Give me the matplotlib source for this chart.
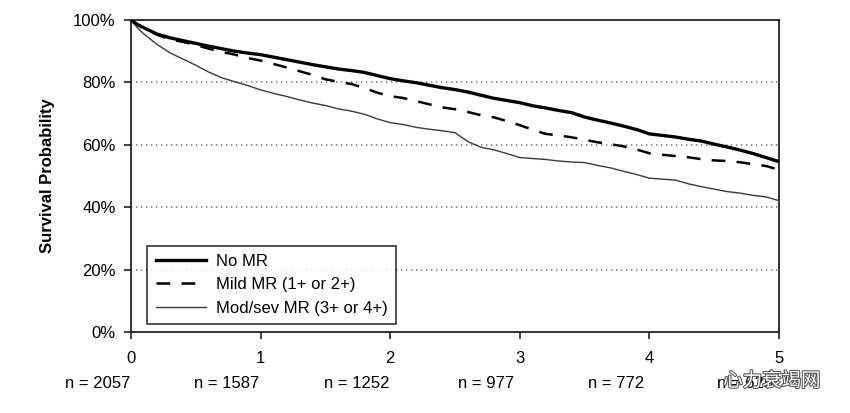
import matplotlib
matplotlib.use("Agg")
import matplotlib.pyplot as plt
import matplotlib.patheffects as pe
from matplotlib.ticker import FuncFormatter

# ---- data ----
years = [0.0, 0.05, 0.1, 0.2, 0.3, 0.4, 0.5, 0.6, 0.7, 0.8, 0.9,
         1.0, 1.1, 1.2, 1.3, 1.4, 1.5, 1.6, 1.7, 1.8, 1.9,
         2.0, 2.1, 2.2, 2.3, 2.4, 2.5, 2.6, 2.7, 2.8, 2.9,
         3.0, 3.1, 3.2, 3.3, 3.4, 3.5, 3.6, 3.7, 3.8, 3.9,
         4.0, 4.1, 4.2, 4.3, 4.4, 4.5, 4.6, 4.7, 4.8, 4.9, 5.0]

no_mr = [100, 98.5, 97.5, 95.5, 94.3, 93.4, 92.5, 91.6, 90.8, 90.0, 89.4,
         88.9, 88.1, 87.3, 86.5, 85.7, 85.0, 84.3, 83.8, 83.2, 82.2,
         81.2, 80.5, 79.9, 79.1, 78.3, 77.7, 76.9, 75.9, 74.9, 74.2,
         73.5, 72.5, 71.8, 71.0, 70.3, 68.9, 67.9, 67.0, 66.0, 64.9,
         63.5, 63.0, 62.5, 61.8, 61.2, 60.2, 59.3, 58.3, 57.2, 55.9, 54.6]

mild_mr = [100, 98.6, 97.3, 95.3, 93.8, 93.0, 92.0, 90.8, 89.8, 88.9, 87.8,
           87.0, 85.9, 84.8, 83.6, 82.4, 81.0, 80.2, 79.5, 78.2, 76.7,
           75.6, 75.0, 74.0, 73.0, 72.0, 71.4, 70.5, 69.5, 68.8, 67.6,
           66.3, 64.8, 63.5, 63.0, 62.4, 61.6, 60.8, 60.2, 59.5, 58.5,
           57.3, 56.8, 56.4, 56.0, 55.4, 55.0, 54.8, 54.4, 53.8, 53.2, 52.0]

modsev_mr = [100, 97.5, 95.5, 92.2, 89.5, 87.5, 85.5, 83.3, 81.5, 80.2, 79.0,
             77.6, 76.5, 75.5, 74.4, 73.4, 72.6, 71.5, 70.8, 69.8, 68.3,
             67.1, 66.5, 65.6, 65.0, 64.5, 63.9, 61.0, 59.2, 58.4, 57.2,
             55.9, 55.6, 55.3, 54.8, 54.5, 54.3, 53.4, 52.6, 51.5, 50.5,
             49.3, 49.0, 48.7, 47.5, 46.6, 45.8, 45.0, 44.5, 43.8, 43.3, 42.1]

labels = ["No MR", "Mild MR (1+ or 2+)", "Mod/sev MR (3+ or 4+)"]
x_ticks = [0, 1, 2, 3, 4, 5]
y_ticks = [0, 20, 40, 60, 80, 100]
n_at_risk = ["n = 2057", "n = 1587", "n = 1252", "n = 977", "n = 772", "n = 625"]

plt.rcParams['font.family'] = ['Liberation Sans', 'DejaVu Sans']

fig = plt.figure(figsize=(8.5, 4.13), dpi=100)
ax = fig.add_axes([131/850, 81/413, 648/850, 312/413])

ax.plot(years, no_mr, color='black', lw=2.4, label=labels[0], zorder=4,
        solid_joinstyle='miter')
ax.plot(years, mild_mr, color='black', lw=1.8,
        linestyle=(0, (5.5, 4.5)), label=labels[1], zorder=3)
ax.plot(years, modsev_mr, color='#3a3a3a', lw=1.0, label=labels[2], zorder=3)

ax.set_xlim(0, 5)
ax.set_ylim(0, 100)
ax.set_xticks(x_ticks)
ax.set_yticks(y_ticks)
ax.yaxis.set_major_formatter(FuncFormatter(lambda v, p: f"{int(v)}%"))

for g in [20, 40, 60, 80]:
    ax.axhline(g, color='#777777', lw=1.2, linestyle=(0, (0.8, 2.2)), zorder=1)

for s in ax.spines.values():
    s.set_linewidth(1.3)
    s.set_color('#222222')

ax.tick_params(axis='both', direction='out', length=5, width=1.2,
               labelsize=12, color='#222222')
ax.tick_params(axis='x', pad=9)
ax.tick_params(axis='y', pad=6)

ax.set_ylabel("Survival Probability", fontsize=12, fontweight='bold', labelpad=13)

leg = ax.legend(loc='lower left', bbox_to_anchor=(0.025, 0.026), borderaxespad=0,
                fontsize=12, frameon=True, fancybox=False, handlelength=3.0,
                handletextpad=0.6, labelspacing=0.5, borderpad=0.5)
leg.get_frame().set_edgecolor('black')
leg.get_frame().set_linewidth(1.2)

for i, t in enumerate(n_at_risk):
    ax.text(i - 0.26, -16.5, t, ha='center', va='center', fontsize=12,
            transform=ax.transData, clip_on=False)

fig.text(772/850, 1 - 381/413, "心力衰竭网", ha='center', va='center', fontsize=14,
         family=['Noto Sans CJK SC', 'DejaVu Sans'], color='white',
         path_effects=[pe.withStroke(linewidth=1.5, foreground='#555555')])

fig.savefig("out.png", dpi=100)
